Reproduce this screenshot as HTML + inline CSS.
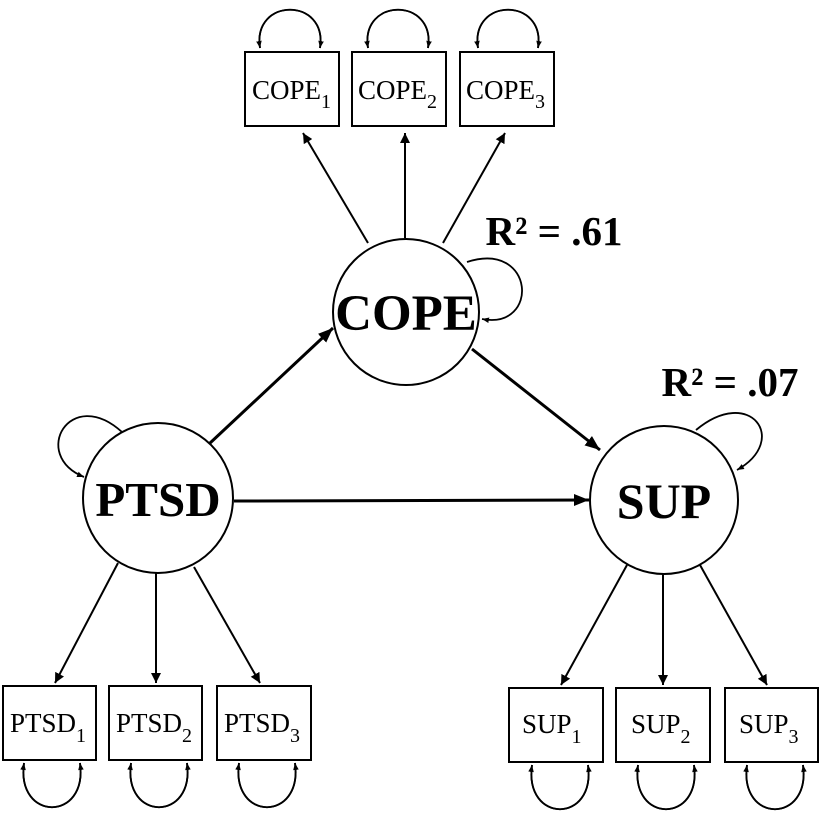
<!DOCTYPE html>
<html><head><meta charset="utf-8"><style>html,body{margin:0;padding:0;background:#fff}svg{display:block}</style></head><body>
<svg width="820" height="813" viewBox="0 0 820 813" xmlns="http://www.w3.org/2000/svg" font-family="Liberation Serif, serif">
<defs>
<marker id="a" viewBox="0 0 10 10" refX="10" refY="5" markerWidth="10" markerHeight="10" markerUnits="userSpaceOnUse" orient="auto"><path d="M0,0L10,5L0,10z" fill="#000"/></marker>
<marker id="b" viewBox="0 0 10 10" refX="10" refY="5" markerWidth="15" markerHeight="15" markerUnits="userSpaceOnUse" orient="auto"><path d="M0,1L10,5L0,9z" fill="#000"/></marker>
<marker id="s" viewBox="0 0 10 10" refX="10" refY="5" markerWidth="7" markerHeight="7" markerUnits="userSpaceOnUse" orient="auto"><path d="M0,1L10,5L0,9z" fill="#000"/></marker>
</defs>
<g fill="none" stroke="#000" stroke-width="2">
<rect x="245" y="52" width="94" height="74"/><rect x="352" y="52" width="94" height="74"/><rect x="460" y="52" width="94" height="74"/>
<rect x="3" y="686" width="93" height="74"/><rect x="109" y="686" width="93" height="74"/><rect x="217" y="686" width="94" height="74"/>
<rect x="509" y="688" width="94" height="74"/><rect x="616" y="688" width="94" height="74"/><rect x="725" y="688" width="93" height="74"/>
<circle cx="406" cy="312" r="73"/><circle cx="158" cy="498" r="75"/><circle cx="664" cy="500" r="74"/>
</g>
<g fill="none" stroke="#000" stroke-width="2">
<line x1="368" y1="243" x2="303" y2="133" marker-end="url(#a)"/>
<line x1="405" y1="238" x2="405" y2="133" marker-end="url(#a)"/>
<line x1="443" y1="243" x2="505" y2="133" marker-end="url(#a)"/>
<line x1="118" y1="563" x2="55" y2="683" marker-end="url(#a)"/>
<line x1="156" y1="573" x2="156" y2="683" marker-end="url(#a)"/>
<line x1="194" y1="567" x2="260" y2="683" marker-end="url(#a)"/>
<line x1="627" y1="565" x2="561" y2="685" marker-end="url(#a)"/>
<line x1="663" y1="574" x2="663" y2="685" marker-end="url(#a)"/>
<line x1="700" y1="565" x2="767" y2="685" marker-end="url(#a)"/>
<line x1="209" y1="444" x2="333" y2="328" stroke-width="3" marker-end="url(#b)"/>
<line x1="472" y1="349" x2="600" y2="450" stroke-width="3" marker-end="url(#b)"/>
<line x1="234" y1="501" x2="589" y2="500" stroke-width="3" marker-end="url(#b)"/>
<path d="M260,48 C252,-3 328,-3 320,48" stroke-width="1.8" marker-end="url(#s)"/><path d="M320,48 C328,-3 252,-3 260,48" stroke-width="1.8" marker-end="url(#s)"/>
<path d="M368,48 C360,-3 436,-3 428,48" stroke-width="1.8" marker-end="url(#s)"/><path d="M428,48 C436,-3 360,-3 368,48" stroke-width="1.8" marker-end="url(#s)"/>
<path d="M478,48 C470,-3 546,-3 538,48" stroke-width="1.8" marker-end="url(#s)"/><path d="M538,48 C546,-3 470,-3 478,48" stroke-width="1.8" marker-end="url(#s)"/>
<path d="M24,763 C16,822 88,822 80,763" stroke-width="1.8" marker-end="url(#s)"/><path d="M80,763 C88,822 16,822 24,763" stroke-width="1.8" marker-end="url(#s)"/>
<path d="M131,763 C123,822 195,822 187,763" stroke-width="1.8" marker-end="url(#s)"/><path d="M187,763 C195,822 123,822 131,763" stroke-width="1.8" marker-end="url(#s)"/>
<path d="M239,763 C231,822 303,822 295,763" stroke-width="1.8" marker-end="url(#s)"/><path d="M295,763 C303,822 231,822 239,763" stroke-width="1.8" marker-end="url(#s)"/>
<path d="M532,765 C524,824 596,824 588,765" stroke-width="1.8" marker-end="url(#s)"/><path d="M588,765 C596,824 524,824 532,765" stroke-width="1.8" marker-end="url(#s)"/>
<path d="M638,765 C630,824 702,824 694,765" stroke-width="1.8" marker-end="url(#s)"/><path d="M694,765 C702,824 630,824 638,765" stroke-width="1.8" marker-end="url(#s)"/>
<path d="M747,765 C739,824 811,824 803,765" stroke-width="1.8" marker-end="url(#s)"/><path d="M803,765 C811,824 739,824 747,765" stroke-width="1.8" marker-end="url(#s)"/>
<path d="M467,262 C535,240 540,330 482,319" stroke-width="1.8" marker-end="url(#s)"/>
<path d="M122,432 C70,385 30,455 84,477" stroke-width="1.8" marker-end="url(#s)"/>
<path d="M696,430 C750,385 790,440 737,470" stroke-width="1.8" marker-end="url(#s)"/>
</g>
<g font-size="27">
<text x="252" y="99">COPE<tspan font-size="20" dy="9">1</tspan></text>
<text x="358" y="99">COPE<tspan font-size="20" dy="9">2</tspan></text>
<text x="466" y="99">COPE<tspan font-size="20" dy="9">3</tspan></text>
<text x="10" y="732">PTSD<tspan font-size="20" dy="10">1</tspan></text>
<text x="116" y="732">PTSD<tspan font-size="20" dy="10">2</tspan></text>
<text x="224" y="732">PTSD<tspan font-size="20" dy="10">3</tspan></text>
<text x="522" y="733">SUP<tspan font-size="20" dy="10">1</tspan></text>
<text x="631" y="733">SUP<tspan font-size="20" dy="10">2</tspan></text>
<text x="739" y="733">SUP<tspan font-size="20" dy="10">3</tspan></text>
</g>
<g font-weight="bold" text-anchor="middle">
<text x="406" y="330" font-size="51">COPE</text>
<text x="158" y="516" font-size="49">PTSD</text>
<text x="664" y="518" font-size="50">SUP</text>
<text x="554" y="245" font-size="41">R² = .61</text>
<text x="730" y="396" font-size="41">R² = .07</text>
</g>
</svg>
</body></html>
